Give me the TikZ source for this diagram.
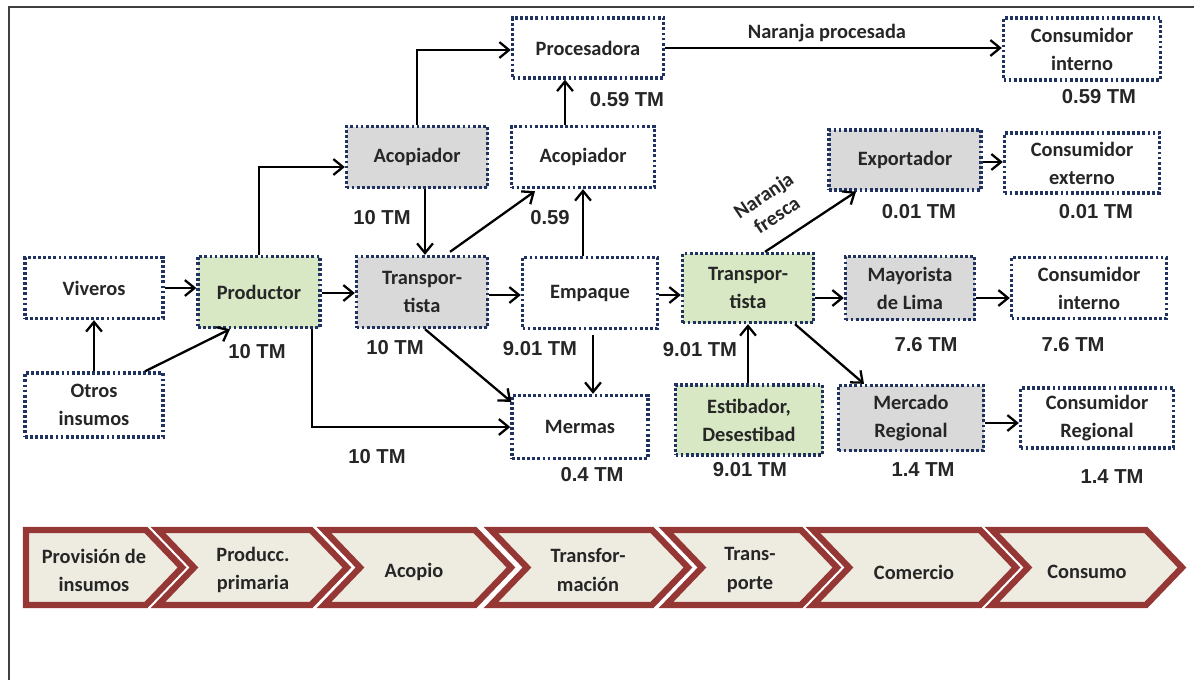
\documentclass[tikz,border=0pt]{standalone}
\usepackage{fontspec}
\setmainfont{Carlito}
\newfontfamily\arialf{Liberation Sans}
\usetikzlibrary{arrows.meta,calc}
\definecolor{dotblue}{RGB}{31,50,96}
\definecolor{boxgray}{RGB}{217,217,217}
\definecolor{boxgreen}{RGB}{216,232,196}
\definecolor{chevred}{RGB}{149,55,53}
\definecolor{chevfill}{RGB}{238,236,225}
\begin{document}
\begin{tikzpicture}[x=0.02cm,y=-0.02cm,
  sz/.style 2 args={minimum width=#1*0.02cm, minimum height=#2*0.02cm},
  box/.style={draw=dotblue, line width=1.9pt, dash pattern=on 1.6pt off 1.3pt, align=center,
    font=\fontsize{11.6}{16}\selectfont\bfseries, inner sep=0pt, text=black!85},
  wbox/.style={box, fill=white},
  gbox/.style={box, fill=boxgray},
  grbox/.style={box, fill=boxgreen},
  arr/.style={line width=1.3pt, -{Straight Barb[length=5.5pt,width=9pt,line width=1.3pt]}},
  tm/.style={font=\arialf\fontsize{11.5}{14}\selectfont\bfseries, inner sep=0pt, text=black!85},
  lbl/.style={font=\fontsize{11.6}{15}\selectfont\bfseries, inner sep=0pt, align=center, text=black!85},
  chev/.style={draw=chevred, fill=chevfill, line width=3.6pt, miter limit=10},
  chevtext/.style={font=\fontsize{11.6}{16}\selectfont\bfseries, align=center, inner sep=0pt, text=black!85}
]
\useasboundingbox (0,0) rectangle (1194,680);
% frame
\draw[line width=1.1pt, black!75] (1194,7) -- (9,7) -- (9,680);

% nodes
\node[wbox, sz={138}{61}]  (viv)    at (94,288)   {Viveros};
\node[wbox, sz={138}{64}]  (otros)  at (94,405)   {Otros\\insumos};
\node[grbox, sz={122}{71}] (prod)   at (259,292)  {Productor};
\node[gbox, sz={141}{61}]  (acop1)  at (417,157)  {Acopiador};
\node[gbox, sz={131}{71}]  (trans1) at (422,292)  {Transpor-\\tista};
\node[wbox, sz={151}{60}]  (proc)   at (588,48)   {Procesadora};
\node[wbox, sz={143}{61}]  (acop2)  at (583,157)  {Acopiador};
\node[wbox, sz={135}{71}]  (emp)    at (590,293)  {Empaque};
\node[wbox, sz={136}{63}]  (merm)   at (580,427)  {Mermas};
\node[wbox, sz={157}{62}]  (cint1)  at (1082,49)  {Consumidor\\interno};
\node[gbox, sz={152}{60}]  (exp)    at (905,160)  {Exportador};
\node[wbox, sz={155}{60}]  (cext)   at (1082,163) {Consumidor\\externo};
\node[grbox, sz={131}{69}] (trans2) at (748,288)  {Transpor-\\tista};
\node[gbox, sz={129}{63}]  (may)    at (910,288)  {Mayorista\\de Lima};
\node[wbox, sz={155}{61}]  (cint2)  at (1089,288) {Consumidor\\interno};
\node[grbox, sz={147}{70}] (estib)  at (749,420)  {Estibador,\\Desestibad};
\node[gbox, sz={145}{65}]  (merc)   at (911,418)  {Mercado\\Regional};
\node[wbox, sz={153}{60}]  (creg)   at (1097,418) {Consumidor\\Regional};

% connectors
\draw[arr] (viv.east) -- (viv.east -| prod.west);
\draw[arr] (otros.north) -- (viv.south);
\draw[arr] ($(otros.north)+(51,0)$) -- ($(prod.south)+(-29,0)$);
\draw[arr] ($(prod.east)+(0,1)$) -- ($(trans1.west)+(0,1)$);
\draw[arr] (prod.north) |- ($(acop1.west)+(0,10)$);
\draw[arr] (acop1.north) |- ($(proc.west)+(0,2)$);
\draw[arr] ($(acop1.south)+(8,0)$) -- ($(trans1.north)+(3,0)$);
\draw[arr] ($(trans1.north)+(28,-3)$) -- ($(acop2.south)+(-48,2)$);
\draw[arr] (emp.north -| acop2.south) -- (acop2.south);
\draw[arr] ($(acop2.north)+(-18,0)$) -- ($(proc.south)+(-23,0)$);
\draw[arr] ($(trans1.east)+(0,3)$) -- ($(emp.west)+(0,2)$);
\draw[arr] ($(trans1.south)+(3,0)$) -- ($(merm.north west)+(1,8)$);
\draw[arr] ($(prod.south)+(53,0)$) |- (merm.west);
\draw[arr] ($(emp.south)+(3,5)$) -- ($(merm.north)+(13,0)$);
\draw[arr] ($(emp.east)+(0,2)$) -- ($(trans2.west)+(0,7)$);
\draw[arr] (proc.east) -- (proc.east -| cint1.west);
\draw[arr] ($(trans2.north)+(17,0)$) -- ($(exp.south)+(-49,0)$);
\draw[arr] ($(trans2.east)+(0,10)$) -- ($(may.west)+(0,10)$);
\draw[arr] ($(may.east)+(0,10)$) -- ($(cint2.west)+(0,10)$);
\draw[arr] ($(exp.east)+(0,2)$) -- ($(cext.west)+(0,-1)$);
\draw[arr] ($(trans2.south)+(47,0)$) -- ($(merc.north)+(-47,0)$);
\draw[arr] (estib.north -| trans2.south) -- (trans2.south);
\draw[arr] ($(merc.east)+(0,5)$) -- ($(creg.west)+(0,5)$);

% labels
\node[lbl] (lnp) at (827,33) {Naranja procesada};
\node[lbl, rotate=34, font=\fontsize{11.6}{13.5}\selectfont\bfseries] (lnf) at (770,205) {Naranja\\fresca};
\node[tm] (t1)  at (257,352)  {10 TM};
\node[tm] (t2)  at (395,348)  {10 TM};
\node[tm] (t3)  at (382,218)  {10 TM};
\node[tm] (t4)  at (377,457)  {10 TM};
\node[tm] (t5)  at (550,218)  {0.59};
\node[tm] (t6)  at (627,100)  {0.59 TM};
\node[tm] (t7)  at (540,349)  {9.01 TM};
\node[tm] (t8)  at (592,475)  {0.4 TM};
\node[tm] (t9)  at (1099,97)  {0.59 TM};
\node[tm] (t10) at (919,212)  {0.01 TM};
\node[tm] (t11) at (1096,212) {0.01 TM};
\node[tm] (t12) at (926,345)  {7.6 TM};
\node[tm] (t13) at (1073,345) {7.6 TM};
\node[tm] (t14) at (700,350)  {9.01 TM};
\node[tm] (t15) at (750,470)  {9.01 TM};
\node[tm] (t16) at (923,470)  {1.4 TM};
\node[tm] (t17) at (1112,477) {1.4 TM};

% chevrons
\def\yt{530}\def\yb{605}\def\ym{567.5}\def\dd{36}
\draw[chev] (26,\yt) -- (146,\yt) -- (146+\dd,\ym) -- (146,\yb) -- (26,\yb) -- cycle;
\foreach \xl/\xr in {158/311, 324/475, 491/652, 666/801, 813/980, 992/1146}{
  \draw[chev] (\xl,\yt) -- (\xr,\yt) -- (\xr+\dd,\ym) -- (\xr,\yb) -- (\xl,\yb) -- (\xl+\dd,\ym) -- cycle;
}
\node[chevtext] (c1) at (94,570)  {Provisión de\\insumos};
\node[chevtext] (c2) at (253,570) {Producc.\\primaria};
\node[chevtext] (c3) at (414,572) {Acopio};
\node[chevtext] (c4) at (588,570) {Transfor-\\mación};
\node[chevtext] (c5) at (750,570) {Trans-\\porte};
\node[chevtext] (c6) at (914,572) {Comercio};
\node[chevtext] (c7) at (1087,572) {Consumo};
\end{tikzpicture}
\end{document}
